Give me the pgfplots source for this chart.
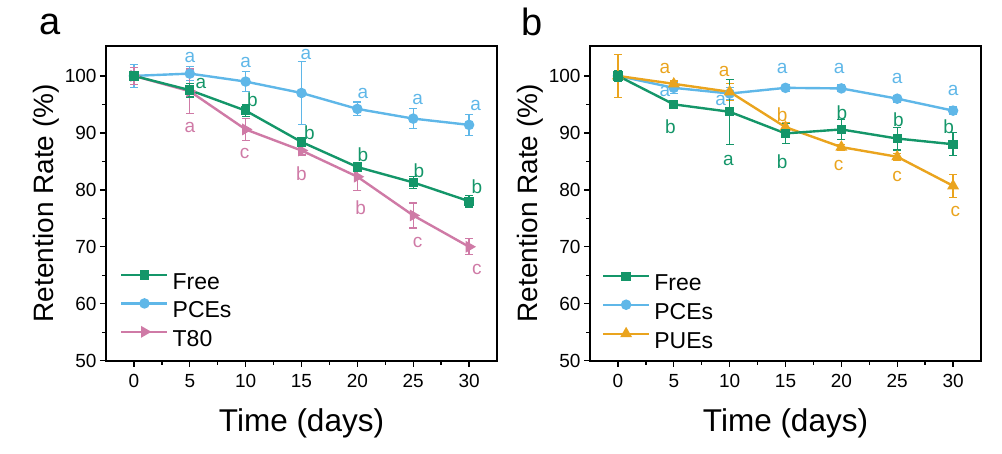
\documentclass[border=0pt]{standalone}
\usepackage{pgfplots}
\pgfplotsset{compat=1.18}
\usepackage{fontspec}
\setmainfont{Liberation Sans}
\setsansfont{Liberation Sans}

\definecolor{cgreen}{RGB}{20,150,105}
\definecolor{cblue}{RGB}{95,183,232}
\definecolor{cpink}{RGB}{207,122,166}
\definecolor{corange}{RGB}{234,164,30}

\pgfplotstableread{
x y e
0 100.0 0.8
5 97.5 1.2
10 93.9 1.0
15 88.4 0.5
20 84.0 0.3
25 81.3 1.0
30 78.0 1.0
}\freeA
\pgfplotstableread{
x y e
0 100.0 2.0
5 100.4 1.2
10 99.0 1.7
15 97.0 5.5
20 94.2 1.2
25 92.5 1.8
30 91.4 1.8
}\pceA
\pgfplotstableread{
x y e
0 100.0 1.5
5 97.3 3.9
10 90.6 1.9
15 86.9 0.8
20 82.3 2.4
25 75.5 2.2
30 70.0 1.4
}\tA
\pgfplotstableread{
x y e
0 100.0 1.0
5 95.0 0.7
10 93.7 5.7
15 89.9 1.8
20 90.6 1.8
25 89.0 2.0
30 88.0 2.0
}\freeB
\pgfplotstableread{
x y e
0 100.0 1.0
5 97.9 1.0
10 96.9 1.0
15 97.9 0.6
20 97.8 0.6
25 96.0 0.6
30 93.9 0.7
}\pceB
\pgfplotstableread{
x y e
0 100.0 3.8
5 98.6 0.5
10 97.2 1.5
15 91.0 0.8
20 87.5 0.5
25 85.8 0.6
30 80.7 2.0
}\pueB

\tikzset{lab/.style={font=\fontsize{19}{19}\selectfont}}
\pgfplotsset{
  panel/.style={
    scale only axis, width=391pt, height=315pt,
    xmin=-2.5, xmax=32.5, ymin=50, ymax=105.3,
    xtick={0,5,...,30}, ytick={50,60,...,100},
    minor xtick={2.5,7.5,...,27.5}, minor ytick={55,65,...,95},
    tick align=outside, xtick pos=bottom, ytick pos=left,
    major tick length=6pt, minor tick length=4pt,
    major tick style={black, line width=1.4pt},
    minor tick style={black, line width=1.4pt},
    axis line style={line width=2pt},
    tick label style={font=\fontsize{19}{19}\selectfont},
    xticklabel style={yshift=-4pt},
    /pgf/number format/assume math mode=true,
    xlabel={Time (days)}, ylabel={Retention Rate (\%)},
    xlabel style={font=\fontsize{31.5}{31.5}\selectfont, at={(axis description cs:0.5,-0.198)}, anchor=center},
    ylabel style={font=\fontsize{28}{28}\selectfont, at={(axis description cs:-0.152,0.5)}, anchor=center},
    legend cell align=left,
    legend style={draw=none, fill=none, inner sep=0pt, font=\fontsize{23}{23}\selectfont,
      at={(axis description cs:0.036,0.045)}, anchor=south west, row sep=10pt,
      nodes={inner sep=0pt, text height=17pt, text depth=0pt},
      /tikz/every odd column/.append style={column sep=4pt}},
    legend image code/.code={\draw[mark repeat=2,mark phase=2] plot coordinates {(0pt,6pt) (23pt,6pt) (46pt,6pt)};},
    every axis plot/.append style={line width=2.4pt},
    error bars/error bar style={line width=1.2pt},
    error bars/error mark options={rotate=90, mark size=4pt, line width=1.2pt},
  },
}

\begin{document}
\begin{tikzpicture}
\useasboundingbox (0,0) rectangle (1002pt,453pt);

\begin{axis}[panel, at={(106pt,92.3pt)}, anchor=south west]
\addplot[color=cblue, mark=*, mark size=4pt, mark options={solid, fill=cblue},
  error bars/.cd, y dir=both, y explicit] table[x=x,y=y,y error=e] {\pceA};
\addplot[color=cpink, mark=triangle*, mark size=4.5pt, mark options={solid, fill=cpink, rotate=270},
  error bars/.cd, y dir=both, y explicit] table[x=x,y=y,y error=e] {\tA};
\addplot[color=cgreen, mark=square*, mark size=3.5pt, mark options={solid, fill=cgreen},
  error bars/.cd, y dir=both, y explicit] table[x=x,y=y,y error=e] {\freeA};
\node[lab, text=cblue] at (axis cs:5,103.3) {a};
\node[lab, text=cblue] at (axis cs:10,102.3) {a};
\node[lab, text=cblue] at (axis cs:15.4,103.8) {a};
\node[lab, text=cblue] at (axis cs:20.5,96.9) {a};
\node[lab, text=cblue] at (axis cs:25.4,95.8) {a};
\node[lab, text=cblue] at (axis cs:30.6,94.8) {a};
\node[lab, text=cgreen] at (axis cs:6.0,98.6) {a};
\node[lab, text=cgreen] at (axis cs:10.6,95.8) {b};
\node[lab, text=cgreen] at (axis cs:15.7,90.0) {b};
\node[lab, text=cgreen] at (axis cs:20.5,86.1) {b};
\node[lab, text=cgreen] at (axis cs:25.5,83.4) {b};
\node[lab, text=cgreen] at (axis cs:30.7,80.5) {b};
\node[lab, text=cpink] at (axis cs:5,91.0) {a};
\node[lab, text=cpink] at (axis cs:9.9,86.35) {c};
\node[lab, text=cpink] at (axis cs:15,82.8) {b};
\node[lab, text=cpink] at (axis cs:20.3,76.9) {b};
\node[lab, text=cpink] at (axis cs:25.4,70.8) {c};
\node[lab, text=cpink] at (axis cs:30.7,66.0) {c};
\end{axis}
\begin{axis}[panel, at={(106pt,92.3pt)}, anchor=south west, axis lines=none, ticks=none, xlabel={}, ylabel={}]
\addlegendimage{color=cgreen, mark=square*, mark size=3.5pt, mark options={solid, fill=cgreen}}
\addlegendentry{Free}
\addlegendimage{color=cblue, mark=*, mark size=4pt, mark options={solid, fill=cblue}}
\addlegendentry{PCEs}
\addlegendimage{color=cpink, mark=triangle*, mark size=4.5pt, mark options={solid, fill=cpink, rotate=270}}
\addlegendentry{T80}
\end{axis}

\begin{axis}[panel, at={(590pt,92.3pt)}, anchor=south west]
\addplot[color=cblue, mark=*, mark size=4pt, mark options={solid, fill=cblue},
  error bars/.cd, y dir=both, y explicit] table[x=x,y=y,y error=e] {\pceB};
\addplot[color=corange, mark=triangle*, mark size=4.5pt, mark options={solid, fill=corange},
  error bars/.cd, y dir=both, y explicit] table[x=x,y=y,y error=e] {\pueB};
\addplot[color=cgreen, mark=square*, mark size=3.5pt, mark options={solid, fill=cgreen},
  error bars/.cd, y dir=both, y explicit] table[x=x,y=y,y error=e] {\freeB};
\node[lab, text=corange] at (axis cs:4.2,101.3) {a};
\node[lab, text=corange] at (axis cs:9.5,100.7) {a};
\node[lab, text=cblue] at (axis cs:4.2,97.2) {a};
\node[lab, text=cblue] at (axis cs:9.2,95.6) {a};
\node[lab, text=cblue] at (axis cs:14.7,101.3) {a};
\node[lab, text=cblue] at (axis cs:19.8,101.3) {a};
\node[lab, text=cblue] at (axis cs:25.0,99.6) {a};
\node[lab, text=cblue] at (axis cs:30.0,97.4) {a};
\node[lab, text=corange] at (axis cs:14.7,93.1) {b};
\node[lab, text=corange] at (axis cs:19.75,84.3) {c};
\node[lab, text=corange] at (axis cs:25.0,82.3) {c};
\node[lab, text=corange] at (axis cs:30.2,76.2) {c};
\node[lab, text=cgreen] at (axis cs:4.7,91.0) {b};
\node[lab, text=cgreen] at (axis cs:9.9,85.2) {a};
\node[lab, text=cgreen] at (axis cs:14.7,84.9) {b};
\node[lab, text=cgreen] at (axis cs:20.05,93.6) {b};
\node[lab, text=cgreen] at (axis cs:25.1,92.3) {b};
\node[lab, text=cgreen] at (axis cs:29.6,91.0) {b};
\end{axis}
\begin{axis}[panel, at={(590pt,92.3pt)}, anchor=south west, axis lines=none, ticks=none, xlabel={}, ylabel={},
  legend style={at={(axis description cs:0.03,0.039)}}]
\addlegendimage{color=cgreen, mark=square*, mark size=3.5pt, mark options={solid, fill=cgreen}}
\addlegendentry{Free}
\addlegendimage{color=cblue, mark=*, mark size=4pt, mark options={solid, fill=cblue}}
\addlegendentry{PCEs}
\addlegendimage{color=corange, mark=triangle*, mark size=4.5pt, mark options={solid, fill=corange}}
\addlegendentry{PUEs}
\end{axis}

\node[font=\fontsize{38}{38}\selectfont, anchor=base] at (50pt,418pt) {a};
\node[font=\fontsize{38}{38}\selectfont, anchor=base] at (532pt,417pt) {b};
\end{tikzpicture}
\end{document}
